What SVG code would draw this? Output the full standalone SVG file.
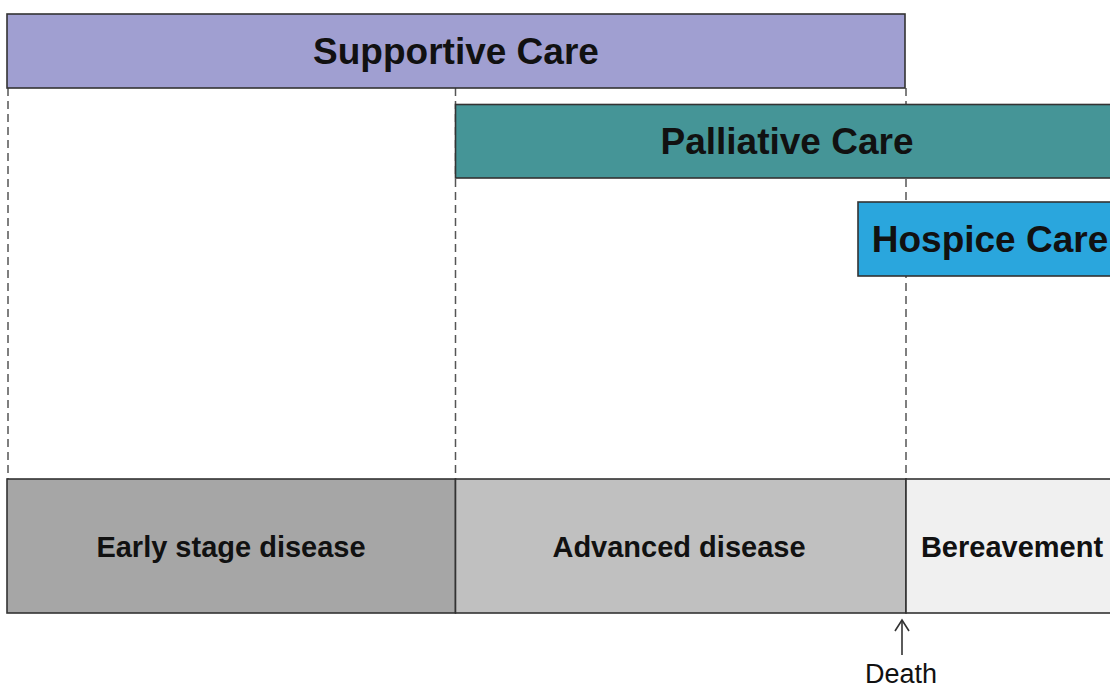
<svg xmlns="http://www.w3.org/2000/svg" width="1110" height="690" viewBox="0 0 1110 690">
<style>
.box{stroke:#333;stroke-width:1.6}
.t{font-family:"Liberation Sans",Arial,sans-serif;font-weight:bold;fill:#111;text-anchor:middle}
.big{font-size:37px}
.mid{font-size:29px}
.dash{stroke:#555;stroke-width:1.5;stroke-dasharray:8 5;fill:none}
</style>
<rect width="1110" height="690" fill="#fff"/>
<g id="connectors">
<line class="dash" x1="8" y1="88" x2="8" y2="479"/>
<line class="dash" x1="455.5" y1="88" x2="455.5" y2="479"/>
<line class="dash" x1="906" y1="88" x2="906" y2="479"/>
<g id="death-arrow" stroke="#333" stroke-width="1.6" fill="none">
<line x1="902" y1="655" x2="902" y2="620"/>
<polyline points="895,631 902,620 909,631"/>
</g>
</g>
<g id="supportive">
<rect class="box" x="7" y="14" width="898" height="74" fill="#a09fd1"/>
<text class="t big" x="456" y="64">Supportive Care</text>
</g>
<g id="palliative">
<rect class="box" x="455.5" y="104.5" width="670" height="73.5" fill="#459597"/>
<text class="t big" x="787" y="154">Palliative Care</text>
</g>
<g id="hospice">
<rect class="box" x="858" y="202" width="270" height="74" fill="#2aa6dd"/>
<text class="t big" x="990" y="252">Hospice Care</text>
</g>
<g id="early">
<rect class="box" x="7" y="479" width="448.5" height="134" fill="#a6a6a6"/>
<text class="t mid" x="231" y="557">Early stage disease</text>
</g>
<g id="advanced">
<rect class="box" x="455.5" y="479" width="450.5" height="134" fill="#c0c0c0"/>
<text class="t mid" x="679" y="557">Advanced disease</text>
</g>
<g id="bereavement">
<rect class="box" x="906" y="479" width="220" height="134" fill="#f0f0f0"/>
<text class="t mid" x="1012" y="557">Bereavement</text>
</g>
<g id="death">
<text x="901" y="683" font-family="Liberation Sans,Arial,sans-serif" font-size="27" fill="#111" text-anchor="middle">Death</text>
</g>
</svg>
